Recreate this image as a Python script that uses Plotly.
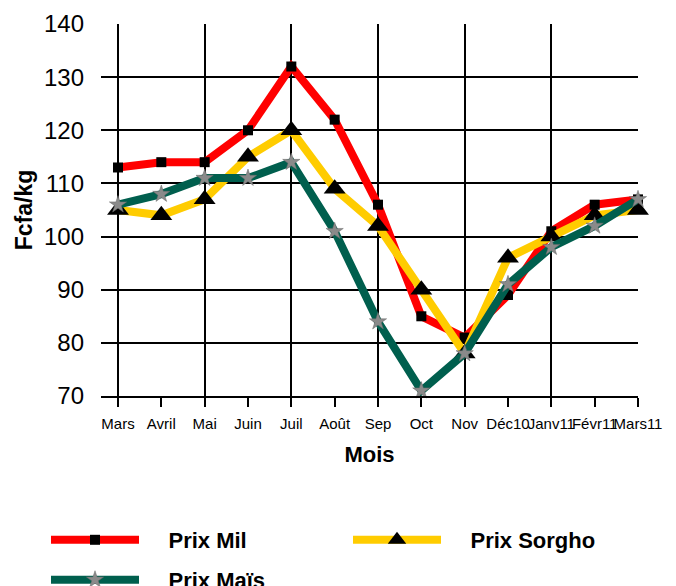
import plotly.graph_objects as go

months = ["Mars", "Avril", "Mai", "Juin", "Juil", "Août", "Sep", "Oct", "Nov",
          "Déc10", "Janv11", "Févr11", "Mars11"]
prix_mil = [113, 114, 114, 120, 132, 122, 106, 85, 81, 89, 101, 106, 107]
prix_sorgho = [105, 104, 107, 115, 120, 109, 102, 90, 78, 96, 100, 104, 105]
prix_mais = [106, 108, 111, 111, 114, 101, 84, 71, 78, 91, 98, 102, 107]

FONT = "Liberation Sans, Arial, sans-serif"
PAD = "\u00a0" * 4
xs = list(range(len(months)))

fig = go.Figure()
fig.add_trace(go.Scatter(x=xs, y=prix_mil, name=PAD + "<b>Prix Mil</b>", mode="lines+markers",
                         line=dict(color="#FF0000", width=8),
                         marker=dict(symbol="square", size=10, color="black"),
                         cliponaxis=False, legend="legend"))
fig.add_trace(go.Scatter(x=xs, y=prix_sorgho, name=PAD + "<b>Prix Sorgho</b>", mode="lines+markers",
                         line=dict(color="#FFCC00", width=8),
                         marker=dict(symbol="triangle-up", size=19, color="black"),
                         cliponaxis=False, legend="legend2"))
fig.add_trace(go.Scatter(x=xs, y=prix_mais, name=PAD + "<b>Prix Maïs</b>", mode="lines+markers",
                         line=dict(color="#005F4E", width=8),
                         marker=dict(symbol="star", size=13, color="#8a8a8a",
                                     line=dict(color="#6a6a6a", width=0.5)),
                         cliponaxis=False, legend="legend3"))
# invisible helper trace to activate the overlaying grid axis
fig.add_trace(go.Scatter(x=[xs[0]], y=[prix_mil[0]], xaxis="x2", mode="markers",
                         marker=dict(opacity=0), showlegend=False, hoverinfo="skip"))

xrange = [-0.392, 12]
leg_common = dict(orientation="h", xref="container", yref="container",
                  xanchor="left", yanchor="middle", itemwidth=88,
                  font=dict(family=FONT, size=22, color="black"),
                  bgcolor="rgba(0,0,0,0)")
fig.update_layout(
    width=676, height=586,
    margin=dict(l=101, r=38, t=24, b=190),
    paper_bgcolor="white", plot_bgcolor="white",
    font=dict(family=FONT, color="black"),
    xaxis=dict(range=xrange, tickmode="array", tickvals=xs, ticktext=months,
               tickangle=0, showgrid=False, zeroline=False, automargin=False,
               ticks="outside", ticklen=9, tickwidth=1.5, tickcolor="black",
               showline=True, linecolor="black", linewidth=1.5,
               ticklabelstandoff=4,
               tickfont=dict(family=FONT, size=15),
               title=dict(text="<b>Mois</b>", font=dict(family=FONT, size=22), standoff=16)),
    xaxis2=dict(range=xrange, overlaying="x", tickmode="array", automargin=False,
                tickvals=xs[::2], showticklabels=False, showgrid=True,
                gridcolor="black", gridwidth=1.5, zeroline=False, ticks=""),
    yaxis=dict(range=[70, 140], dtick=10, showgrid=True, gridcolor="black", gridwidth=1.5,
               zeroline=False, ticks="", ticklabelstandoff=16, automargin=False,
               tickfont=dict(family=FONT, size=24),
               title=dict(text="<b>Fcfa/kg</b>", font=dict(family=FONT, size=23), standoff=4)),
    legend=dict(leg_common, x=46 / 676, y=1 - 540 / 586),
    legend2=dict(leg_common, x=348 / 676, y=1 - 540 / 586),
    legend3=dict(leg_common, x=46 / 676, y=1 - 580 / 586),
    showlegend=True,
)

fig.write_html("out.html", config={"displayModeBar": False},
               post_script="document.body.style.margin='0';")
